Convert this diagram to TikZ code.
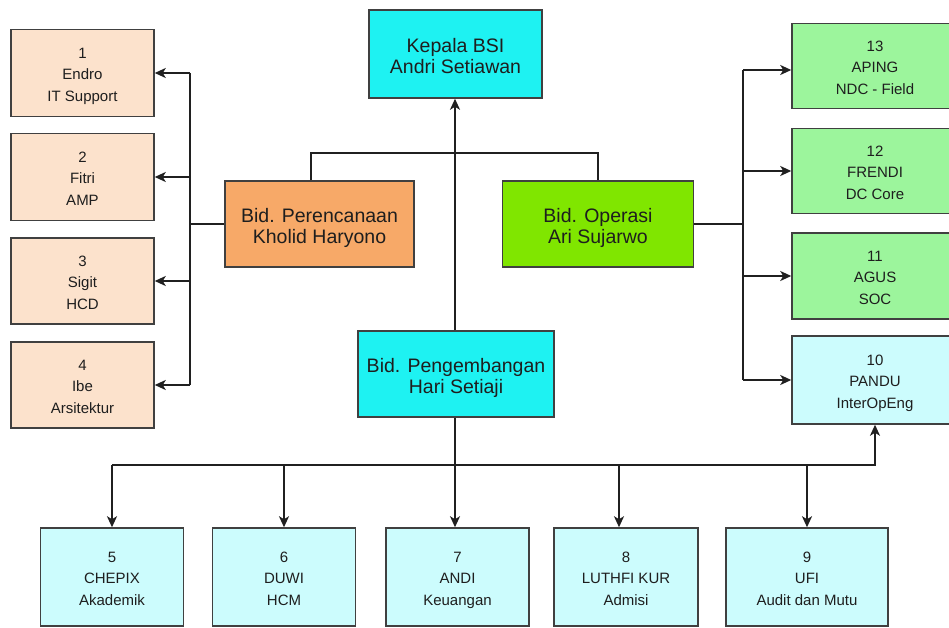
\documentclass[tikz,border=0pt]{standalone}
\usepackage{fontspec}
\setmainfont{Liberation Sans}
\usetikzlibrary{arrows.meta}
\definecolor{cyanbox}{HTML}{1EF2F2}
\definecolor{orangebox}{HTML}{F7A968}
\definecolor{peachbox}{HTML}{FCE2CC}
\definecolor{limebox}{HTML}{80E600}
\definecolor{greenbox}{HTML}{9CF59C}
\definecolor{lightcyan}{HTML}{CCFCFD}
\definecolor{boxline}{HTML}{404040}
\definecolor{lineclr}{HTML}{202020}
\definecolor{txt}{HTML}{1E1E1E}
\newcommand{\bigtxt}[1]{\rule{0pt}{22.5pt}#1\rule[-4pt]{0pt}{0pt}}
\newcommand{\smtxt}[1]{\rule{0pt}{17.5pt}#1\rule[-4pt]{0pt}{0pt}}
\begin{document}
\begin{tikzpicture}[x=1pt,y=-1pt,
  box/.style={draw=boxline, line width=1.5pt, inner sep=0pt, align=center, text=txt},
  big/.style={box, font=\fontsize{19.5}{20.5}\selectfont},
  small/.style={box, font=\fontsize{15}{21.5}\selectfont},
  conn/.style={line width=1.8pt, draw=lineclr},
  arr/.style={conn, -{Stealth[length=11pt,width=10pt,inset=3pt]}}]
\useasboundingbox (0,0) rectangle (949,628);
\fill[white] (0,0) rectangle (949,628);
\clip (0,0) rectangle (949,628);

% top and middle boxes
\node[big, fill=cyanbox, minimum width=173pt, minimum height=88pt] (kepala) at (455.5,54) {\bigtxt{Kepala BSI\\Andri Setiawan}};
\node[big, fill=orangebox, minimum width=189pt, minimum height=86pt] (perenc) at (319.5,224) {\bigtxt{Bid. Perencanaan\\Kholid Haryono}};
\node[big, fill=limebox, minimum width=191pt, minimum height=86pt] (oper) at (598,224) {\bigtxt{Bid. Operasi\\Ari Sujarwo}};
\node[big, fill=cyanbox, minimum width=196pt, minimum height=86pt] (peng) at (456,374) {\bigtxt{Bid. Pengembangan\\Hari Setiaji}};

% left boxes
\node[small, fill=peachbox, minimum width=143pt, minimum height=87pt] (L1) at (82.5,73) {\smtxt{1\\Endro\\IT Support}};
\node[small, fill=peachbox, minimum width=143pt, minimum height=87pt] (L2) at (82.5,177) {\smtxt{2\\Fitri\\AMP}};
\node[small, fill=peachbox, minimum width=143pt, minimum height=86pt] (L3) at (82.5,281) {\smtxt{3\\Sigit\\HCD}};
\node[small, fill=peachbox, minimum width=143pt, minimum height=86pt] (L4) at (82.5,385) {\smtxt{4\\Ibe\\Arsitektur}};

% right boxes
\node[small, fill=greenbox, minimum width=166pt, minimum height=85pt] (R13) at (875,66) {\smtxt{13\\APING\\NDC - Field}};
\node[small, fill=greenbox, minimum width=166pt, minimum height=85pt] (R12) at (875,171) {\smtxt{12\\FRENDI\\DC Core}};
\node[small, fill=greenbox, minimum width=166pt, minimum height=86pt] (R11) at (875,276) {\smtxt{11\\AGUS\\SOC}};
\node[small, fill=lightcyan, minimum width=166pt, minimum height=88pt] (R10) at (875,380) {\smtxt{10\\PANDU\\InterOpEng}};

% bottom boxes
\node[small, fill=lightcyan, minimum width=143pt, minimum height=98pt] (B5) at (112,577) {\smtxt{5\\CHEPIX\\Akademik}};
\node[small, fill=lightcyan, minimum width=143pt, minimum height=98pt] (B6) at (284,577) {\smtxt{6\\DUWI\\HCM}};
\node[small, fill=lightcyan, minimum width=143pt, minimum height=98pt] (B7) at (457.5,577) {\smtxt{7\\ANDI\\Keuangan}};
\node[small, fill=lightcyan, minimum width=144pt, minimum height=98pt] (B8) at (626,577) {\smtxt{8\\LUTHFI KUR\\Admisi}};
\node[small, fill=lightcyan, minimum width=162pt, minimum height=98pt] (B9) at (807,577) {\smtxt{9\\UFI\\Audit dan Mutu}};

% junction coordinates
\coordinate (tl) at (311,153);
\coordinate (lb) at (190,224);
\coordinate (rb) at (743,224);
\coordinate (bb) at (455,465);

% trunk to head
\draw[arr] (peng.north -| bb) -- (kepala.south -| bb);
% top bar
\draw[conn] (perenc.north -| tl) -- (tl) -| (oper.north);

% left bus
\draw[conn] (perenc.west) -- (perenc.west -| lb);
\draw[conn] (lb |- L1.east) -- (lb |- L4.east);
\draw[arr] (lb |- L1.east) -- (L1.east);
\draw[arr] (lb |- L2.east) -- (L2.east);
\draw[arr] (lb |- L3.east) -- (L3.east);
\draw[arr] (lb |- L4.east) -- (L4.east);

% right bus
\draw[conn] (oper.east) -- (oper.east -| rb);
\draw[conn] ([yshift=-4pt]rb |- R13.west) -- (rb |- R10.west);
\draw[arr] ([yshift=-4pt]rb |- R13.west) -- ([yshift=-4pt]R13.west);
\draw[arr] (rb |- R12.west) -- (R12.west);
\draw[arr] (rb |- R11.west) -- (R11.west);
\draw[arr] (rb |- R10.west) -- (R10.west);

% bottom bus
\draw[arr] (peng.south -| bb) -- (B7.north -| bb);
\draw[arr] (B5.north |- bb) -- (R10.south |- bb) -- (R10.south);
\draw[arr] (B5.north |- bb) -- (B5.north);
\draw[arr] (B6.north |- bb) -- (B6.north);
\draw[arr] ([xshift=-7pt]B8.north |- bb) -- ([xshift=-7pt]B8.north);
\draw[arr] (B9.north |- bb) -- (B9.north);
\end{tikzpicture}
\end{document}
